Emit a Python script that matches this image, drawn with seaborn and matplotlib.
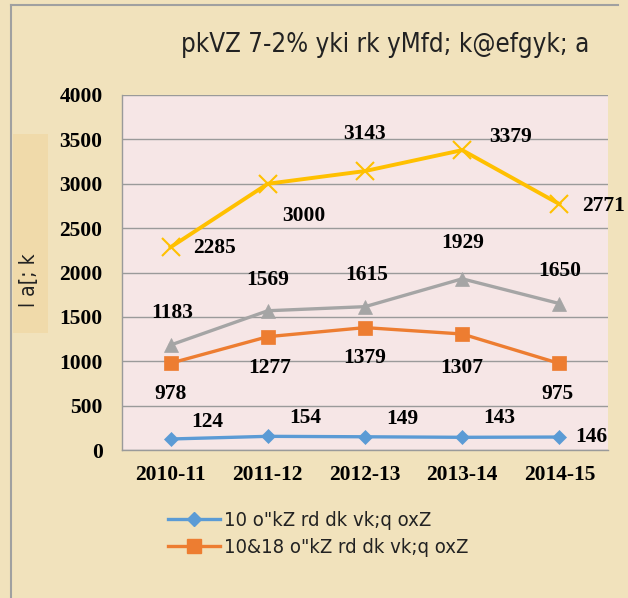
import matplotlib
matplotlib.use("Agg")
import matplotlib.pyplot as plt
import seaborn as sns
import pandas as pd
from matplotlib.patches import Rectangle
from matplotlib.lines import Line2D

# ---------------- data ----------------
years = ["2010-11", "2011-12", "2012-13", "2013-14", "2014-15"]
s_under10 = [124, 154, 149, 143, 146]
s_10to18 = [978, 1277, 1379, 1307, 975]
s_third = [1183, 1569, 1615, 1929, 1650]
s_total = [2285, 3000, 3143, 3379, 2771]
series_names = ['10 o"kZ rd dk vk;q oxZ', '10&18 o"kZ rd dk vk;q oxZ',
                'Series3', 'Series4']
title_text = 'pkVZ 7-2% yki rk yMfd; k@efgyk; a'
ylabel_text = 'l a[; k'
yticks = [0, 500, 1000, 1500, 2000, 2500, 3000, 3500, 4000]

# ---------------- styles ----------------
colors = ["#5B9BD5", "#ED7D31", "#A5A5A5", "#FFC000"]
markers = ["D", "s", "^", "x"]
msizes = [7, 10, 10, 13]
lwidths = [2.4, 2.4, 2.4, 2.8]
# label offsets in pixels (dx, dy) relative to each point, y up
offsets = [
    [(37, 17), (37, 18), (37, 18), (37, 19), (32, 0)],
    [(0, -31), (2, -31), (0, -30), (0, -34), (-2, -31)],
    [(2, 32), (0, 31), (2, 32), (0, 36), (0, 33)],
    [(44, -1), (36, -32), (0, 37), (48, 13), (44, -2)],
]

text_fam = ["DejaVu Sans"]
serif_fam = ["Liberation Serif", "DejaVu Serif"]

W, H = 628, 598
fig = plt.figure(figsize=(W / 100, H / 100), dpi=100)
fig.patch.set_facecolor("#F1E2BC")

ax = fig.add_axes([122 / W, 1 - 450 / H, (608 - 122) / W, (450 - 95) / H])
ax.set_facecolor("#F6E6E6")

all_series = [s_under10, s_10to18, s_third, s_total]
frames = []
for name, vals in zip(series_names, all_series):
    frames.append(pd.DataFrame({"year": years, "value": vals, "series": name}))
df = pd.concat(frames, ignore_index=True)
df["x"] = df["year"].map({y: i for i, y in enumerate(years)})

handles = []
for i, name in enumerate(series_names):
    sub = df[df["series"] == name]
    sns.lineplot(data=sub, x="x", y="value", ax=ax, color=colors[i],
                 linewidth=lwidths[i], marker=markers[i], markersize=msizes[i],
                 markeredgecolor=colors[i], markeredgewidth=1.5 if markers[i] == "x" else 0.5,
                 legend=False, zorder=3 + i)
    handles.append(Line2D([0], [0], color=colors[i], lw=lwidths[i], marker=markers[i],
                          markersize=msizes[i], markeredgecolor=colors[i]))
    for j, (xv, yv) in enumerate(zip(sub["x"], sub["value"])):
        dx, dy = offsets[i][j]
        ax.annotate(str(yv), (xv, yv), xytext=(dx, dy), textcoords="offset pixels",
                    ha="center", va="center", fontsize=15.5, fontweight="bold",
                    family=serif_fam, color="black", annotation_clip=False, zorder=10)

ax.set_xlim(-0.5, len(years) - 0.5)
ax.set_ylim(0, 4000)
ax.set_yticks(yticks)
ax.set_xticks(range(len(years)))
ax.set_xticklabels(years)
ax.set_xlabel("")
ax.set_ylabel("")
ax.grid(axis="y", color="#9A9A9A", linewidth=1.0)
ax.grid(axis="x", visible=False)
ax.set_axisbelow(True)
for side in ["top", "right"]:
    ax.spines[side].set_visible(False)
for side in ["left", "bottom"]:
    ax.spines[side].set_color("#9A9A9A")
    ax.spines[side].set_linewidth(1.0)
ax.tick_params(axis="both", length=0)
ax.tick_params(axis="y", pad=14)
ax.tick_params(axis="x", pad=11)
for lab in ax.get_yticklabels() + ax.get_xticklabels():
    lab.set_fontfamily(serif_fam)
    lab.set_fontweight("bold")
    lab.set_fontsize(15.5)

# title
fig.text(385 / W, 1 - 45 / H, title_text, ha="center", va="center",
         fontsize=18.5, family=text_fam, fontstretch="condensed", color="#222222")

# y label with background box
fig.add_artist(Rectangle((13 / W, 1 - 333 / H), 35 / W, 199 / H,
                         transform=fig.transFigure, facecolor="#F0DAAA",
                         edgecolor="none", zorder=0))
fig.text(29 / W, 1 - 280 / H, ylabel_text, rotation=90, ha="center", va="center",
         fontsize=15, family=text_fam, fontstretch="condensed", color="#222222")

# legend (first two series)
leg = fig.legend(handles[:2], series_names[:2], loc="upper left",
                 bbox_to_anchor=(160 / W, 1 - 503 / H), frameon=False,
                 prop={"family": text_fam, "size": 14.5, "stretch": "condensed"},
                 handlelength=2.6, handletextpad=0.2, labelspacing=0.4, borderaxespad=0)
for t in leg.get_texts():
    t.set_color("#222222")

# outer frame lines
fig.add_artist(Line2D([11 / W, 11 / W], [0, 1 - 5 / H], transform=fig.transFigure,
                      color="#A0A0A0", lw=1.5))
fig.add_artist(Line2D([11 / W, 618 / W], [1 - 5 / H, 1 - 5 / H], transform=fig.transFigure,
                      color="#A0A0A0", lw=1.5))

fig.savefig("out.png", dpi=100, facecolor=fig.get_facecolor())
